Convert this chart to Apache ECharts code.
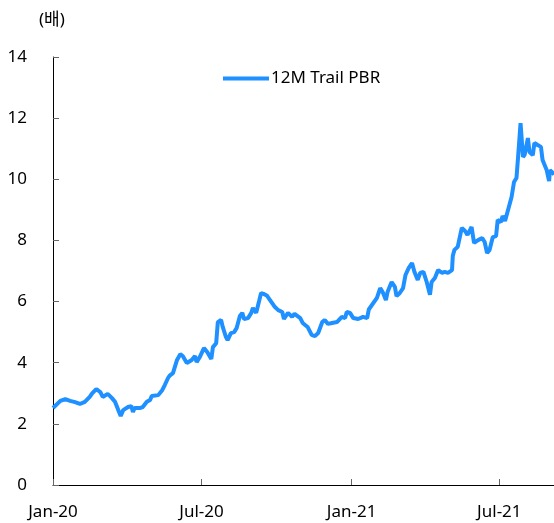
<!DOCTYPE html>
<html>
<head>
<meta charset="utf-8">
<script src="https://cdn.jsdelivr.net/npm/echarts@6/dist/echarts.min.js"></script>
<style>
html, body { margin: 0; padding: 0; background: #fff; }
#main { width: 554px; height: 523px; }
</style>
</head>
<body>
<div id="main"></div>
<script>
// days counted from 2020-01-01
var days = [0, 2, 9, 15, 21, 27, 33, 39, 45, 48, 53, 58, 61, 67, 72, 76, 80, 83, 86, 92, 96, 98, 100, 107, 110, 115, 119, 121, 129, 134, 137, 141, 143, 147, 152, 156, 159, 164, 170, 174, 176, 180, 185, 189, 194, 196, 200, 202, 206, 208, 212, 214, 218, 222, 225, 229, 232, 234, 239, 243, 245, 249, 252, 255, 258, 262, 266, 272, 276, 281, 283, 288, 293, 296, 303, 306, 312, 317, 321, 325, 330, 333, 337, 342, 348, 354, 358, 360, 364, 368, 374, 380, 385, 387, 397, 401, 404, 408, 410, 415, 419, 421, 425, 429, 432, 436, 440, 443, 447, 450, 454, 458, 462, 464, 468, 472, 477, 480, 484, 489, 490, 492, 496, 501, 505, 508, 513, 516, 521, 526, 529, 532, 535, 539, 543, 545, 549, 551, 554, 557, 562, 565, 568, 570, 572, 573, 576, 578, 582, 584, 588, 590, 594, 598, 600, 605, 608, 609, 613, 614];
var pbr = [2.52, 2.55, 2.75, 2.81, 2.75, 2.71, 2.65, 2.72, 2.88, 3.0, 3.14, 3.04, 2.88, 2.98, 2.85, 2.72, 2.45, 2.26, 2.45, 2.55, 2.58, 2.39, 2.52, 2.52, 2.55, 2.72, 2.78, 2.91, 2.94, 3.11, 3.27, 3.5, 3.58, 3.66, 4.09, 4.28, 4.22, 3.99, 4.09, 4.22, 4.02, 4.19, 4.48, 4.35, 4.12, 4.51, 4.64, 5.33, 5.40, 5.17, 4.84, 4.74, 4.97, 5.0, 5.13, 5.53, 5.63, 5.43, 5.46, 5.63, 5.79, 5.63, 5.95, 6.28, 6.25, 6.2, 6.05, 5.82, 5.72, 5.66, 5.43, 5.63, 5.5, 5.6, 5.46, 5.30, 5.17, 4.91, 4.87, 4.97, 5.33, 5.40, 5.27, 5.30, 5.33, 5.5, 5.46, 5.66, 5.63, 5.46, 5.43, 5.5, 5.46, 5.74, 6.12, 6.44, 6.31, 6.05, 6.31, 6.64, 6.48, 6.18, 6.28, 6.44, 6.87, 7.10, 7.26, 6.97, 6.71, 6.94, 6.97, 6.64, 6.22, 6.64, 6.77, 7.03, 6.94, 6.97, 6.94, 7.03, 7.5, 7.69, 7.79, 8.41, 8.31, 8.18, 8.44, 7.92, 8.01, 8.08, 7.95, 7.59, 7.69, 8.11, 8.14, 8.67, 8.60, 8.80, 8.64, 8.93, 9.42, 9.91, 10.04, 10.73, 10.79, 11.84, 10.73, 10.80, 11.35, 10.89, 10.79, 11.19, 11.12, 11.06, 10.63, 10.30, 9.94, 10.30, 10.2, 10.15];
var tickDays = [0, 182, 366, 547];
var tickLabels = ['Jan-20', 'Jul-20', 'Jan-21', 'Jul-21'];

var seriesData = days.map(function (d, i) { return [d, pbr[i]]; });
var font = '"Noto Sans", "Noto Sans CJK KR", sans-serif';

var myChart = echarts.init(document.getElementById('main'));
var option = {
    animation: false,
    textStyle: { fontFamily: font },
    grid: { left: 53, right: 0, top: 57, bottom: 38 },
    title: {
        text: '(배)',
        left: 34,
        top: 7,
        textStyle: { fontSize: 17, fontWeight: 'normal', color: '#000', fontFamily: font }
    },
    legend: {
        data: [{ name: '12M Trail PBR', icon: 'rect' }],
        left: 218,
        top: 65,
        itemWidth: 46,
        itemHeight: 4,
        itemGap: 4,
        textStyle: { fontSize: 17, color: '#000', fontFamily: font, padding: [0, 0, 0, -3] }
    },
    xAxis: {
        type: 'value',
        min: 0,
        max: 614,
        splitLine: { show: false },
        axisLine: { lineStyle: { color: '#000', width: 1 } },
        axisTick: { inside: true, length: 6, customValues: tickDays, lineStyle: { color: '#666' } },
        axisLabel: {
            customValues: tickDays,
            margin: 19,
            fontSize: 17,
            color: '#000',
            fontFamily: font,
            formatter: function (v) {
                var i = tickDays.indexOf(v);
                return i >= 0 ? tickLabels[i] : '';
            }
        }
    },
    yAxis: {
        type: 'value',
        min: 0,
        max: 14,
        interval: 2,
        splitLine: { show: false },
        axisLine: { show: true, lineStyle: { color: '#000', width: 1 } },
        axisTick: { show: true, inside: true, length: 6, lineStyle: { color: '#666' } },
        axisLabel: { margin: 26, fontSize: 17, color: '#000', fontFamily: font }
    },
    series: [{
        name: '12M Trail PBR',
        type: 'line',
        data: seriesData,
        showSymbol: false,
        color: '#1E90FF',
        lineStyle: { width: 4, color: '#1E90FF' }
    }]
};
myChart.setOption(option);
</script>
</body>
</html>
